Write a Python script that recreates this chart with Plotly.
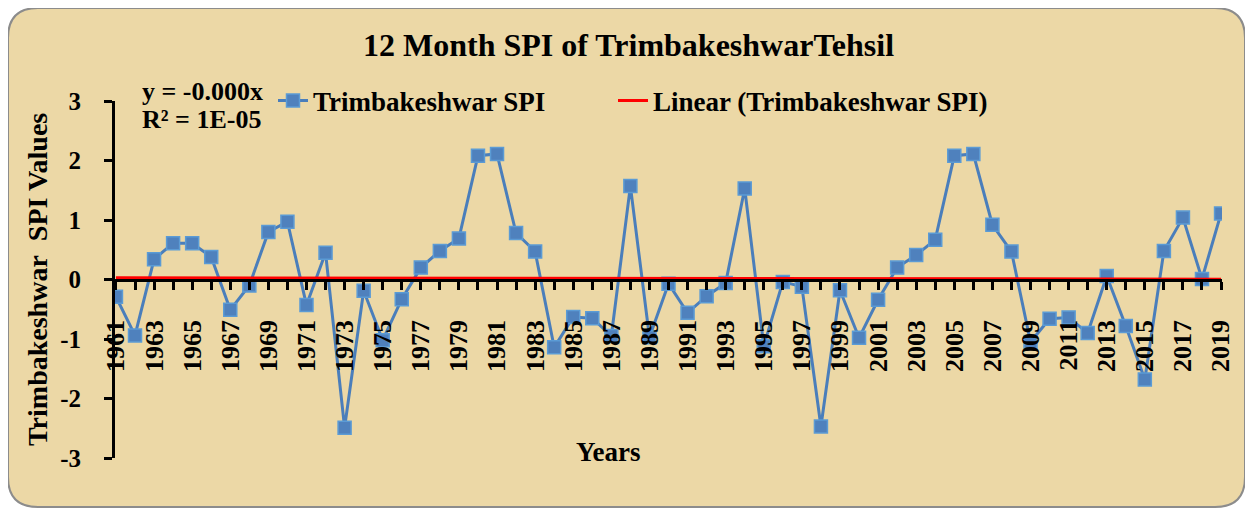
import numpy as np
import plotly.graph_objects as go

years = list(range(1961, 2020))
spi = [-0.29, -0.94, 0.34, 0.61, 0.61, 0.38, -0.51, -0.10, 0.80, 0.97,
       -0.43, 0.45, -2.49, -0.19, -1.02, -0.33, 0.20, 0.48, 0.69, 2.08,
       2.11, 0.78, 0.47, -1.14, -0.63, -0.65, -0.95, 1.57, -0.97, -0.07,
       -0.56, -0.28, -0.06, 1.53, -1.12, -0.04, -0.12, -2.47, -0.18, -0.98,
       -0.34, 0.20, 0.41, 0.67, 2.08, 2.11, 0.92, 0.47, -1.05, -0.66,
       -0.64, -0.90, 0.06, -0.78, -1.68, 0.48, 1.04, 0.01, 1.11]
label_years = [y for y in years if y % 2 == 1]
y_ticks = [-3, -2, -1, 0, 1, 2, 3]
y_ticktext = ["-3", "-2", "-1", "0", "1", "2", "3"]
title_text = "12 Month SPI of TrimbakeshwarTehsil"
series_name = "Trimbakeshwar SPI"
trend_name = "Linear (Trimbakeshwar SPI)"
eq_lines = ["y = -0.000x", "R² = 1E-05"]
y_title = "Trimbakeshwar\u00a0\u00a0SPI Values"
x_title = "Years"

# linear trend from the data
idx = np.arange(1, len(years) + 1)
slope, intercept = np.polyfit(idx, spi, 1)
trend = slope * idx + intercept

FONT = "Liberation Serif"
OFF = 8                      # page body margin
W, H = 1253 - OFF, 510 - OFF
# plot area in page px
L, R, T, B = 115, 1222, 101, 458


def px(x):
    return (x - L) / (R - L)


def py(y):
    return (B - y) / (B - T)


fig = go.Figure()
fig.add_trace(go.Scatter(
    x=years, y=spi, name=series_name, mode="lines+markers",
    line=dict(color="#4A7EBB", width=3),
    marker=dict(symbol="square", size=13, color="#4F81BD",
                line=dict(color="#5B9BD5", width=1.5)),
    legend="legend",
))
fig.add_trace(go.Scatter(
    x=years, y=trend, name=trend_name, mode="lines",
    line=dict(color="#FF0000", width=3),
    legend="legend2",
))

# rounded background panel (page px)
x0, x1, y0, y1, r = 8, 1245, 8, 507, 30
pts = [
    ("M", x0 + r, y0), ("L", x1 - r, y0), ("Q", x1, y0, x1, y0 + r),
    ("L", x1, y1 - r), ("Q", x1, y1, x1 - r, y1), ("L", x0 + r, y1),
    ("Q", x0, y1, x0, y1 - r), ("L", x0, y0 + r), ("Q", x0, y0, x0 + r, y0),
]
path = ""
for p in pts:
    if p[0] == "Q":
        path += f"Q{px(p[1]):.5f},{py(p[2]):.5f} {px(p[3]):.5f},{py(p[4]):.5f} "
    else:
        path += f"{p[0]}{px(p[1]):.5f},{py(p[2]):.5f} "
path += "Z"
fig.add_shape(type="path", path=path, xref="paper", yref="paper",
              fillcolor="#ECD8A6", line=dict(color="#8C8C8C", width=2),
              layer="below")

bold = dict(family=FONT, color="black", weight="bold")


def note(text, x, y, size, xanchor="center", angle=0):
    fig.add_annotation(text=text, x=px(x), y=py(y), xref="paper", yref="paper",
                       xanchor=xanchor, yanchor="middle", textangle=angle,
                       showarrow=False, font=dict(size=size, **bold))


note(title_text, 628, 45, 32)
note(eq_lines[0], 140, 91, 26, xanchor="left")
note(eq_lines[1], 140, 119, 26, xanchor="left")
note(y_title, 37, 280, 28, angle=-90)
note(x_title, 608, 452, 27)

legend_common = dict(orientation="h", xanchor="left", yanchor="middle",
                     bgcolor="rgba(0,0,0,0)", font=dict(size=27, **bold), itemwidth=30)

fig.update_layout(
    width=W, height=H,
    margin=dict(l=L - OFF, r=W - (R - OFF), t=T - OFF, b=H - (B - OFF), pad=0),
    paper_bgcolor="white", plot_bgcolor="rgba(0,0,0,0)",
    showlegend=True,
    legend=dict(x=px(273), y=py(101), **legend_common),
    legend2=dict(x=px(613), y=py(101), **legend_common),
    xaxis=dict(
        range=[1960.95, 2019.05], anchor="free", position=0.5,
        showgrid=False, zeroline=False, showline=True, linecolor="black", linewidth=3,
        tickmode="array", tickvals=label_years, ticktext=[str(y) for y in label_years],
        tickangle=-90, ticks="outside", ticklen=8, tickwidth=3, tickcolor="black",
        ticklabelstandoff=20,
        tickfont=dict(size=26, **bold),
        minor=dict(tickmode="linear", tick0=1961, dtick=1, ticks="outside",
                   ticklen=8, tickwidth=3, tickcolor="black", showgrid=False),
    ),
    yaxis=dict(
        range=[-3, 3], tickmode="array", tickvals=y_ticks, ticktext=y_ticktext,
        domain=[0, 1],
        showgrid=False, zeroline=False, showline=True, linecolor="black", linewidth=3,
        ticks="outside", ticklen=8, tickwidth=3, tickcolor="black",
        ticklabelstandoff=18, tickfont=dict(size=25, **bold),
    ),
)

fig.write_html("out.html")
